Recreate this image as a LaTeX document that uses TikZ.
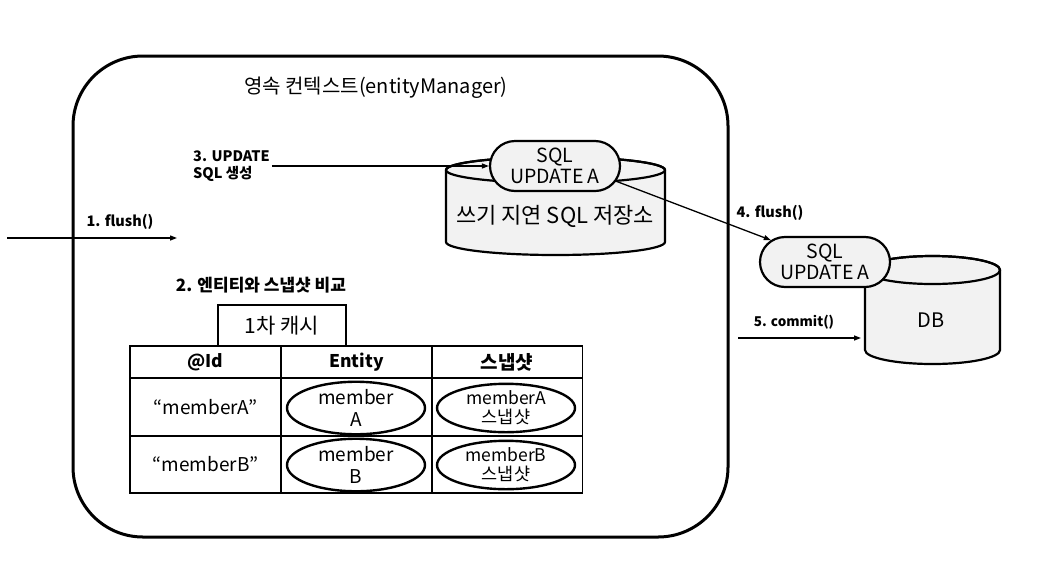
\documentclass[tikz,border=0pt]{standalone}
\usepackage{fontspec}
\setmainfont{Noto Sans CJK KR}
\usetikzlibrary{arrows.meta,shapes.misc,shapes.geometric}
\definecolor{cylfill}{HTML}{F2F2F2}
\tikzset{
  arr/.style={line width=1.3pt,-{Triangle[length=7pt,width=5pt]}},
  lbl/.style={font=\bfseries\fontsize{14.5}{17}\selectfont,inner sep=0pt,align=left},
  pill/.style={rounded rectangle,draw,line width=2.2pt,fill=cylfill,minimum width=130pt,minimum height=50pt,inner sep=0pt,align=center,font=\fontsize{19.5}{21}\selectfont},
  cyl/.style={draw,line width=2.2pt,fill=cylfill},
  cell/.style={draw,line width=1.6pt,minimum width=151pt,inner sep=0pt,align=center},
  oval/.style={ellipse,draw,line width=2.4pt,minimum width=138pt,minimum height=46pt,inner sep=0pt,align=center},
}
\begin{document}
\begin{tikzpicture}[x=1pt,y=-1pt]
\useasboundingbox (0,0) rectangle (1064,579);
% outer context box
\draw[line width=3pt,rounded corners=70pt] (73,56) rectangle (728,537);
\node[font=\fontsize{20}{22}\selectfont] (title) at (376,88) {영속 컨텍스트(entityManager)};

% write-behind store cylinder
\path[cyl] (446,170) -- (446,242) arc[start angle=180,end angle=360,x radius=109.5pt,y radius=13pt]
  -- (665,170) arc[start angle=0,end angle=180,x radius=109.5pt,y radius=13pt] -- cycle;
\draw[line width=2.2pt] (555.5,170) ellipse[x radius=109.5pt,y radius=13pt];
\node[font=\fontsize{22}{24}\selectfont] (store) at (555,216) {쓰기 지연 SQL 저장소};
\node[pill] (sql1) at (555,166) {SQL\\UPDATE A};

% DB cylinder
\path[cyl] (865,270) -- (865,350) arc[start angle=180,end angle=360,x radius=67.5pt,y radius=14pt]
  -- (1000,270) arc[start angle=0,end angle=180,x radius=67.5pt,y radius=14pt] -- cycle;
\draw[line width=2.2pt] (932.5,270) ellipse[x radius=67.5pt,y radius=14pt];
\node[font=\fontsize{20}{22}\selectfont] (db) at (931,320) {DB};
\node[pill] (sql2) at (825,262) {SQL\\UPDATE A};

% labels
\node[lbl,anchor=west] (l3) at (193,166) {3. UPDATE\\SQL 생성};
\node[lbl] (l1) at (120,222) {1. flush()};
\node[lbl,font=\bfseries\fontsize{17}{19}\selectfont] (l2) at (261,285) {2. 엔티티와 스냅샷 비교};
\node[lbl] (l4) at (770,213) {4. flush()};
\node[lbl,font=\bfseries\fontsize{13.5}{16}\selectfont] (l5) at (794,322) {5. commit()};

% connectors
\coordinate (f1s) at (7,238);
\coordinate (f1e) at (177,238);
\draw[arr] (f1s) -- (f1e);
\draw[arr] (l3.east |- sql1.west) ++(2,0) coordinate (l3s) -- (sql1.west);
\draw[arr] (sql1.-14) -- (sql2.158);
\coordinate (c5s) at (738,338);
\coordinate (c5e) at (861,338);
\draw[arr] (c5s) -- (c5e);

% first-level cache
\node[draw,line width=1.6pt,minimum width=128pt,minimum height=41pt,inner sep=0pt,font=\fontsize{21}{23}\selectfont] (cache) at (282,325.5) {1차 캐시};
\node[cell,minimum height=32pt,font=\bfseries\fontsize{17.5}{19}\selectfont] (h1) at (205.5,362) {@Id};
\node[cell,minimum height=32pt,font=\bfseries\fontsize{17.5}{19}\selectfont] (h2) at (356.5,362) {Entity};
\node[cell,minimum height=32pt,font=\bfseries\fontsize{19}{19}\selectfont] (h3) at (507,362) {스냅샷};
\node[cell,minimum height=58pt,font=\fontsize{19}{21}\selectfont] (r1c1) at (205.5,407) {“memberA”};
\node[cell,minimum height=58pt] (r1c2) at (356.5,407) {};
\node[cell,minimum height=58pt] (r1c3) at (507,407) {};
\node[cell,minimum height=57pt,font=\fontsize{19}{21}\selectfont] (r2c1) at (205.5,464.5) {“memberB”};
\node[cell,minimum height=57pt] (r2c2) at (356.5,464.5) {};
\node[cell,minimum height=57pt] (r2c3) at (507,464.5) {};
\node[oval,font=\fontsize{19}{22}\selectfont] (ea) at (356,408) {member\\A};
\node[oval,font=\fontsize{17.5}{19}\selectfont] (sa) at (506,408) {memberA\\스냅샷};
\node[oval,font=\fontsize{19}{22}\selectfont] (eb) at (356,465) {member\\B};
\node[oval,font=\fontsize{17.5}{19}\selectfont] (sb) at (506,465) {memberB\\스냅샷};
\end{tikzpicture}
\end{document}
